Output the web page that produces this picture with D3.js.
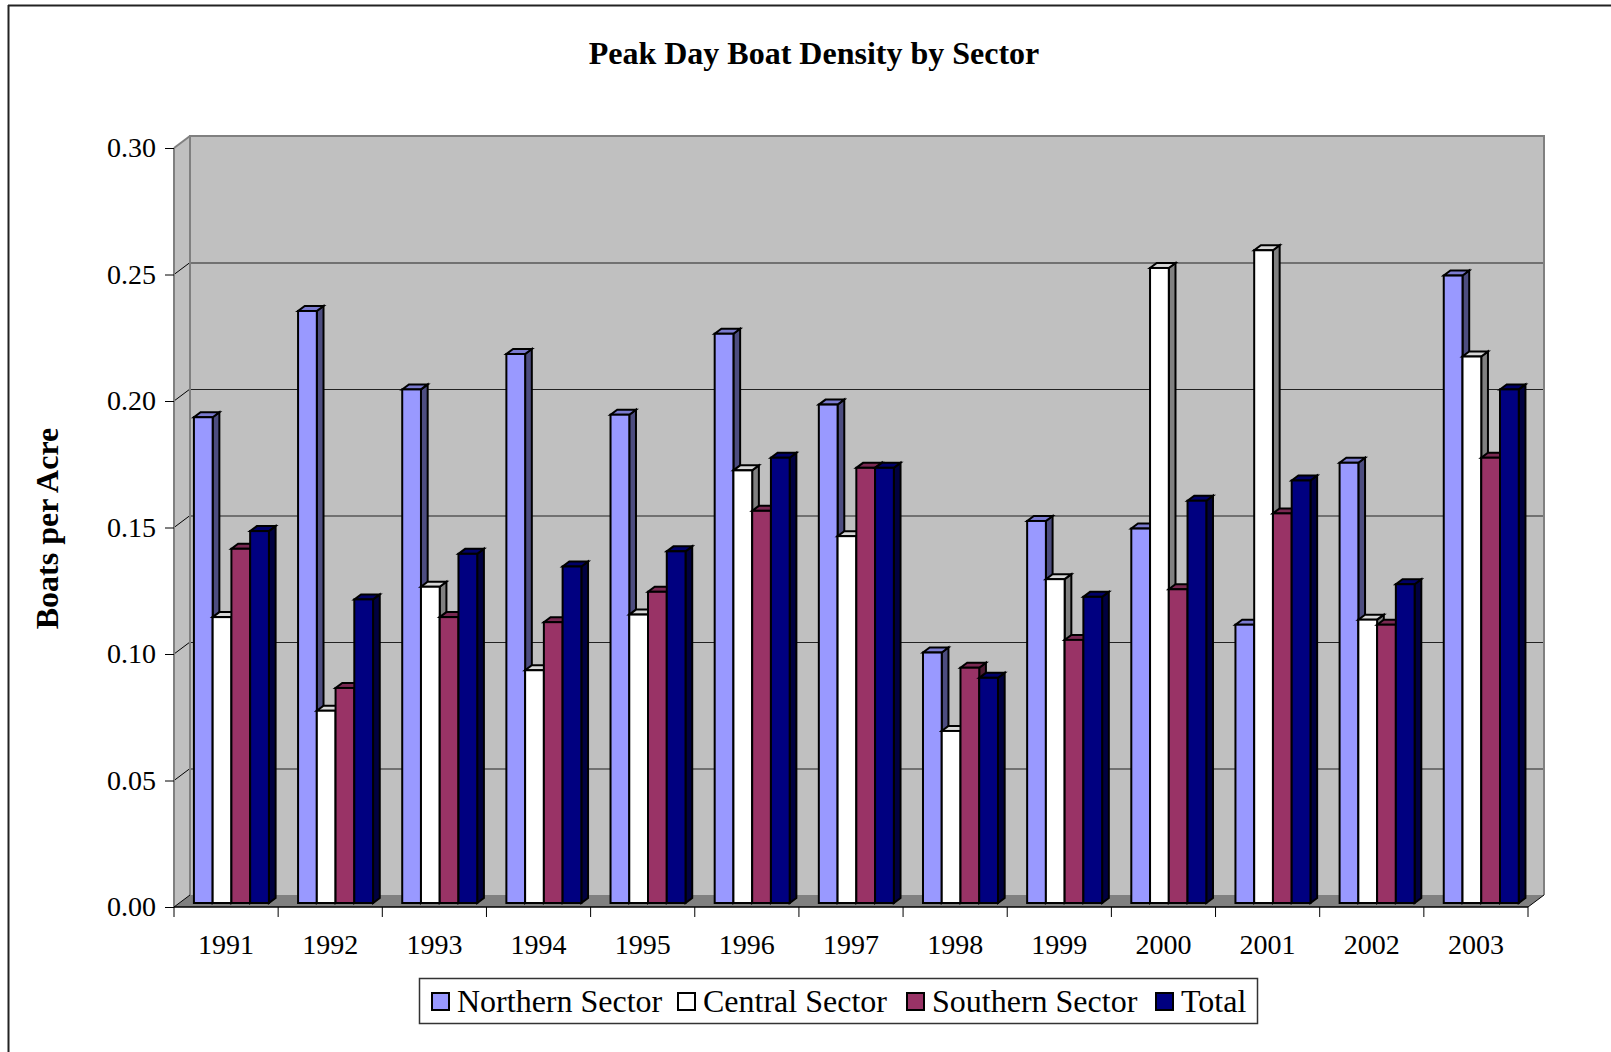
<!DOCTYPE html>
<html>
<head>
<meta charset="utf-8">
<script src="https://cdn.jsdelivr.net/npm/d3@7"></script>
<style>
  html, body { margin: 0; padding: 0; background: #fff; }
  svg { display: block; font-family: "Liberation Serif", "Times New Roman", serif; }
</style>
</head>
<body>
<svg id="chart" width="1611" height="1052"></svg>
<script>
// Peak day boat density (boats per acre), by sector and year
const years = ["1991", "1992", "1993", "1994", "1995", "1996", "1997", "1998", "1999", "2000", "2001", "2002", "2003"];
const seriesNames = ["Northern Sector", "Central Sector", "Southern Sector", "Total"];
const northern = [0.192, 0.234, 0.203, 0.217, 0.193, 0.225, 0.197, 0.099, 0.151, 0.148, 0.110, 0.174, 0.248];
const central  = [0.113, 0.076, 0.125, 0.092, 0.114, 0.171, 0.145, 0.068, 0.128, 0.251, 0.258, 0.112, 0.216];
const southern = [0.140, 0.085, 0.113, 0.111, 0.123, 0.155, 0.172, 0.093, 0.104, 0.124, 0.154, 0.110, 0.176];
const total    = [0.147, 0.120, 0.138, 0.133, 0.139, 0.176, 0.172, 0.089, 0.121, 0.159, 0.167, 0.126, 0.203];
const yTicks = [0, 0.05, 0.10, 0.15, 0.20, 0.25, 0.30];

const seriesValues = [northern, central, southern, total];
// front / top / side face colours per series
const faceColors = [
  { front: "#9999ff", top: "#7b7bd0", side: "#4d4d80" },
  { front: "#ffffff", top: "#d8d8d8", side: "#808080" },
  { front: "#993366", top: "#7a2952", side: "#4d1a33" },
  { front: "#000080", top: "#000068", side: "#000040" }
];

const svg = d3.select("#chart");

// Plot geometry: front plane of the floor, wall depth offset, bar depth
const x0 = 174, x1 = 1528;
const wallDX = 16, wallDY = -12;     // back wall offset from front plane
const barDX = 5.33, barDY = -4;      // bar front face offset from front plane
const depthDX = 6.7, depthDY = -5;   // bar thickness in depth

const x = d3.scaleBand().domain(years).range([x0, x1]).paddingInner(0.28).paddingOuter(0.14);
const xs = d3.scaleBand().domain(seriesNames).range([0, x.bandwidth()]);
const y = d3.scaleLinear().domain([0, 0.3]).range([907, 148]);

// Frame lines (top and left)
svg.append("line").attr("x1", 8).attr("y1", 5.5).attr("x2", 1611).attr("y2", 5.5)
  .attr("stroke", "#222").attr("stroke-width", 2);
svg.append("line").attr("x1", 8.5).attr("y1", 5).attr("x2", 8.5).attr("y2", 1052)
  .attr("stroke", "#222").attr("stroke-width", 2);

// Title
svg.append("text").attr("x", 814).attr("y", 64).attr("text-anchor", "middle")
  .attr("font-size", 32).attr("font-weight", "bold")
  .text("Peak Day Boat Density by Sector");

// Axis title
svg.append("text").attr("transform", "translate(58,528.5) rotate(-90)")
  .attr("text-anchor", "middle").attr("font-size", 32).attr("font-weight", "bold")
  .text("Boats per Acre");

const yTop = y(0.3), yBot = y(0);
const pts = a => a.map(p => p.join(",")).join(" ");

// Back wall
svg.append("polygon")
  .attr("points", pts([[x0 + wallDX, yTop + wallDY], [x1 + wallDX, yTop + wallDY], [x1 + wallDX, yBot + wallDY], [x0 + wallDX, yBot + wallDY]]))
  .attr("fill", "#c0c0c0");
// Left wall
svg.append("polygon")
  .attr("points", pts([[x0, yTop], [x0 + wallDX, yTop + wallDY], [x0 + wallDX, yBot + wallDY], [x0, yBot]]))
  .attr("fill", "#c0c0c0");
// Floor
svg.append("polygon")
  .attr("points", pts([[x0, yBot], [x1, yBot], [x1 + wallDX, yBot + wallDY], [x0 + wallDX, yBot + wallDY]]))
  .attr("fill", "#808080");

// Gridlines: diagonal on the left wall, horizontal on the back wall
const grid = svg.append("g");
yTicks.forEach(t => {
  if (t === 0) return;
  grid.append("line").attr("x1", x0).attr("y1", y(t)).attr("x2", x0 + wallDX).attr("y2", y(t) + wallDY)
    .attr("stroke", t === 0.3 ? "#808080" : "#000").attr("stroke-width", t === 0.3 ? 2 : 1);
  if (t < 0.3) {
    grid.append("line").attr("x1", x0 + wallDX).attr("y1", y(t) + wallDY + 0.5)
      .attr("x2", x1 + wallDX).attr("y2", y(t) + wallDY + 0.5)
      .attr("stroke", "#222").attr("stroke-width", 1);
  }
});

// Wall edges
const edges = svg.append("g").attr("fill", "none").attr("stroke", "#808080").attr("stroke-width", 2);
edges.append("polyline").attr("points", pts([[x0 + wallDX, yBot + wallDY], [x0 + wallDX, yTop + wallDY], [x1 + wallDX, yTop + wallDY], [x1 + wallDX, yBot + wallDY]]));
edges.append("line").attr("x1", x0).attr("y1", yTop).attr("x2", x0).attr("y2", yBot);

// Bars
const bars = svg.append("g").attr("stroke", "#000").attr("stroke-width", 2).attr("stroke-linejoin", "miter");
years.forEach((yr, i) => {
  seriesNames.forEach((s, k) => {
    const v = seriesValues[k][i];
    const c = faceColors[k];
    const bx = x(yr) + xs(s) + barDX;
    const w = xs.bandwidth();
    const top = y(v) + barDY;
    const base = y(0) + barDY;
    const g = bars.append("g");
    g.append("polygon")
      .attr("points", pts([[bx + w, top], [bx + w + depthDX, top + depthDY], [bx + w + depthDX, base + depthDY], [bx + w, base]]))
      .attr("fill", c.side);
    g.append("polygon")
      .attr("points", pts([[bx, top], [bx + w, top], [bx + w + depthDX, top + depthDY], [bx + depthDX, top + depthDY]]))
      .attr("fill", c.top);
    g.append("rect").attr("x", bx).attr("y", top).attr("width", w).attr("height", base - top)
      .attr("fill", c.front);
  });
});

// Y axis ticks and labels
const yAxis = d3.axisLeft(y).tickValues(yTicks).tickFormat(d3.format(".2f")).tickSize(9).tickPadding(9);
const ya = svg.append("g").attr("transform", `translate(${x0},0)`).call(yAxis);
ya.select(".domain").remove();
ya.selectAll(".tick line").attr("stroke", "#000").attr("stroke-width", 1);
ya.selectAll(".tick text").attr("font-size", 28).attr("font-family", "Liberation Serif, serif").attr("fill", "#000");

// X axis: front edge, boundary ticks, year labels
svg.append("line").attr("x1", x0).attr("y1", yBot).attr("x2", x1).attr("y2", yBot)
  .attr("stroke", "#000").attr("stroke-width", 1.5);
svg.append("line").attr("x1", x1).attr("y1", yBot).attr("x2", x1 + wallDX).attr("y2", yBot + wallDY)
  .attr("stroke", "#000").attr("stroke-width", 1);
svg.append("line").attr("x1", x0).attr("y1", yBot).attr("x2", x0 + wallDX).attr("y2", yBot + wallDY)
  .attr("stroke", "#000").attr("stroke-width", 1);
const bounds = d3.range(years.length + 1).map(i => x0 + i * x.step());
svg.append("g").selectAll("line").data(bounds).join("line")
  .attr("x1", d => d).attr("x2", d => d).attr("y1", yBot).attr("y2", yBot + 10)
  .attr("stroke", "#000").attr("stroke-width", 1);
const xAxis = d3.axisBottom(x).tickSize(0).tickPadding(0);
const xa = svg.append("g").attr("transform", `translate(0,${yBot})`).call(xAxis);
xa.select(".domain").remove();
xa.selectAll(".tick text").attr("font-size", 28).attr("font-family", "Liberation Serif, serif")
  .attr("fill", "#000").attr("dy", null).attr("y", 46.5);

// Legend
const legend = svg.append("g");
legend.append("rect").attr("x", 419.5).attr("y", 978.5).attr("width", 838).attr("height", 45)
  .attr("fill", "#fff").attr("stroke", "#333").attr("stroke-width", 1.5);
const legendX = [432, 678, 907, 1156];
seriesNames.forEach((s, k) => {
  legend.append("rect").attr("x", legendX[k]).attr("y", 993).attr("width", 17).attr("height", 17)
    .attr("fill", faceColors[k].front).attr("stroke", "#000").attr("stroke-width", 2);
  legend.append("text").attr("x", legendX[k] + 25).attr("y", 1012).attr("font-size", 32)
    .text(s);
});
</script>
</body>
</html>
